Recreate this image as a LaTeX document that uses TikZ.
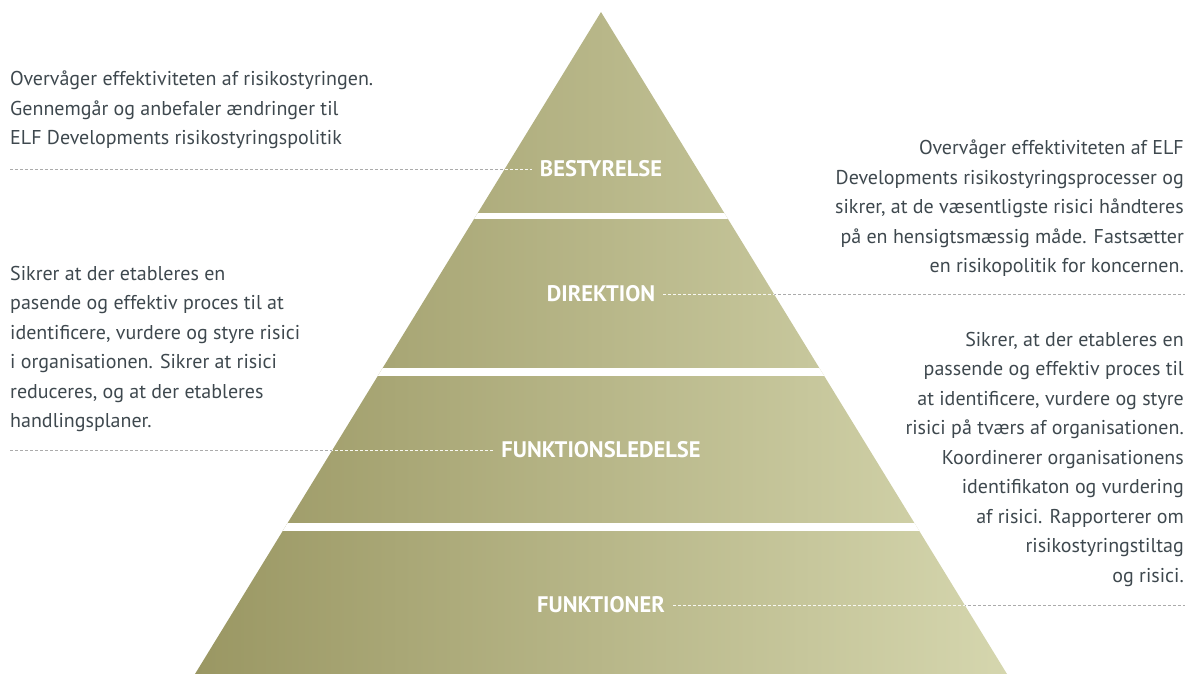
\documentclass[tikz,border=0pt]{standalone}
\usepackage{fontspec}
\setmainfont{PT Sans}
\definecolor{bodytext}{HTML}{3E484E}
\definecolor{leadergray}{HTML}{ABABAB}
\definecolor{olivedark}{HTML}{9A9763}
\definecolor{olivemid}{HTML}{A7A472}
\definecolor{olivelight}{HTML}{D5D6AE}
\tikzset{
  level/.style={text=white, font=\bfseries\fontsize{22.5}{24}\selectfont, inner xsep=8pt, inner ysep=3pt},
  desc/.style={text=bodytext, font=\fontsize{20}{29.5}\selectfont, inner sep=0pt},
  leader/.style={draw=leadergray, line width=0.7pt, dash pattern=on 3pt off 2pt},
}
\begin{document}
\begin{tikzpicture}[x=1pt,y=-1pt]
\useasboundingbox (0,0) rectangle (1187,674);

% pyramid corners
\coordinate (apex) at (601,12);
\coordinate (baseL) at (195,674);
\coordinate (baseR) at (1007,674);

% shaded pyramid cut into four bands by white gaps
\begin{scope}
  \clip (apex) -- (baseR) -- (baseL) -- cycle;
  \shade[left color=olivedark, middle color=olivemid, right color=olivelight]
    (195,0) rectangle (1007,674);
  \fill[white] (0,213) rectangle (1187,219);
  \fill[white] (0,368) rectangle (1187,376);
  \fill[white] (0,523) rectangle (1187,531);
\end{scope}

% band titles
\node[level] (board) at (601,169) {BESTYRELSE};
\node[level] (mgmt)  at (601,294) {DIREKTION};
\node[level] (func)  at (601,450) {FUNKTIONSLEDELSE};
\node[level] (units) at (601,605) {FUNKTIONER};

% free ends of the leader lines
\coordinate (boardEnd) at (10,169);
\coordinate (mgmtEnd)  at (1185,294);
\coordinate (funcEnd)  at (10,450);
\coordinate (unitsEnd) at (1185,605);

% leader lines: gray on white, light over the pyramid
\draw[leader] (boardEnd) -- (board.west);
\draw[leader] (mgmt.east) -- (mgmtEnd);
\draw[leader] (funcEnd) -- (func.west);
\draw[leader] (units.east) -- (unitsEnd);
\begin{scope}
  \clip (apex) -- (baseR) -- (baseL) -- cycle;
  \draw[leader, draw=white!85!olivelight] (boardEnd) -- (board.west);
  \draw[leader, draw=white!85!olivelight] (mgmt.east) -- (mgmtEnd);
  \draw[leader, draw=white!85!olivelight] (funcEnd) -- (func.west);
  \draw[leader, draw=white!85!olivelight] (units.east) -- (unitsEnd);
\end{scope}

% descriptions
\node[desc, anchor=north west, align=left] (boardText) at (10,71)
  {Overvåger effektiviteten af risikostyringen.\\
   Gennemgår og anbefaler ændringer til\\
   ELF Developments risikostyringspolitik};

\node[desc, anchor=north east, align=right] (mgmtText) at (1184,140)
  {Overvåger effektiviteten af ELF\\
   Developments risikostyringsprocesser og\\
   sikrer, at de væsentligste risici håndteres\\
   på en hensigtsmæssig måde. Fastsætter\\
   en risikopolitik for koncernen.};

\node[desc, anchor=north west, align=left] (funcText) at (10,266)
  {Sikrer at der etableres en\\
   pasende og effektiv proces til at\\
   identificere, vurdere og styre risici\\
   i organisationen. Sikrer at risici\\
   reduceres, og at der etableres\\
   handlingsplaner.};

\node[desc, anchor=north east, align=right] (unitsText) at (1184,332)
  {Sikrer, at der etableres en\\
   passende og effektiv proces til\\
   at identificere, vurdere og styre\\
   risici på tværs af organisationen.\\
   Koordinerer organisationens\\
   identifikaton og vurdering\\
   af risici. Rapporterer om\\
   risikostyringstiltag\\
   og risici.};
\end{tikzpicture}
\end{document}
